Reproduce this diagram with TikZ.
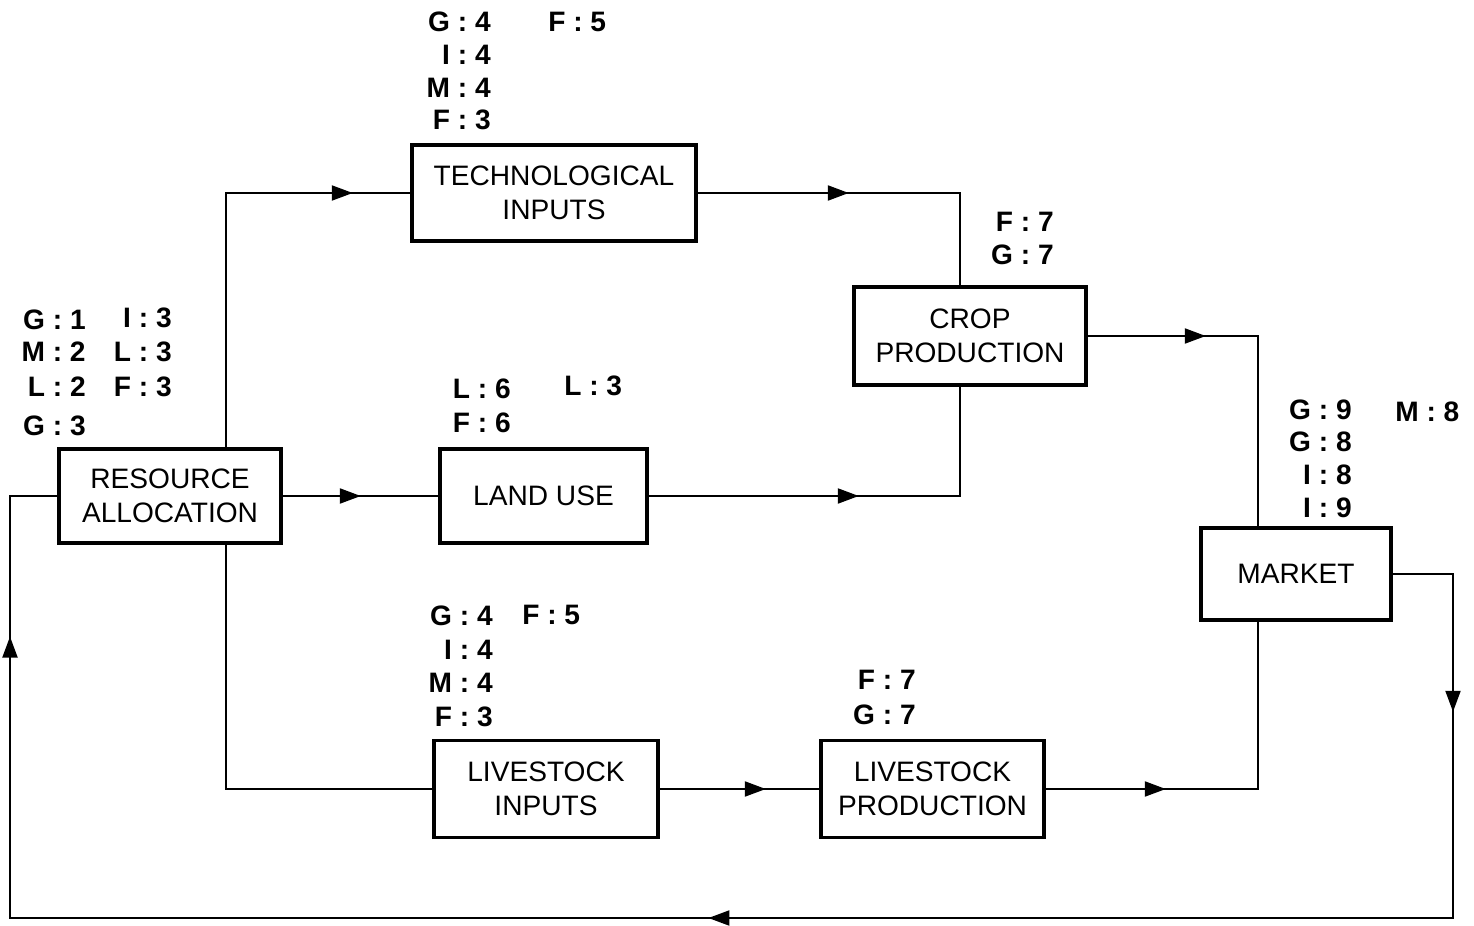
\documentclass[tikz,border=0pt]{standalone}
\usepackage{fontspec}
\setmainfont{Liberation Sans}
\usetikzlibrary{arrows.meta,decorations.markings}
\begin{document}
\begin{tikzpicture}[x=0.02cm,y=-0.02cm,
  box/.style={draw, line width=2.1pt, align=center, inner sep=0pt,
    font=\fontsize{16}{19.5}\selectfont},
  lab/.style={font=\bfseries\fontsize{16}{19}\selectfont, inner sep=0pt, anchor=east},
  labw/.style={font=\bfseries\fontsize{16}{19}\selectfont, inner sep=0pt, anchor=west},
  conn/.style={line width=1.2pt},
  tipat/.style={postaction={decorate, decoration={markings,
    mark=at position #1 with {\arrow{Triangle[length=0.42cm,width=0.3cm]}}}}},
]
\useasboundingbox (0,0) rectangle (1474,926);

% boxes
\node[box, minimum width=5.68cm, minimum height=1.92cm] (TI) at (554,193) {TECHNOLOGICAL\\INPUTS};
\node[box, minimum width=4.64cm, minimum height=1.96cm] (CP) at (970,336) {CROP\\PRODUCTION};
\node[box, minimum width=4.44cm, minimum height=1.88cm] (RA) at (170,496) {RESOURCE\\ALLOCATION};
\node[box, minimum width=4.14cm, minimum height=1.88cm] (LU) at (543.5,496) {LAND USE};
\node[box, minimum width=3.80cm, minimum height=1.84cm] (MK) at (1296,574) {MARKET};
\node[box, minimum width=4.48cm, minimum height=1.94cm] (LI) at (546,789) {LIVESTOCK\\INPUTS};
\node[box, minimum width=4.46cm, minimum height=1.94cm] (LP) at (932.5,789) {LIVESTOCK\\PRODUCTION};

% routing coordinates
\coordinate (c1) at (226,0);
\coordinate (c2) at (960,0);
\coordinate (c3) at (1258,0);
\coordinate (c4) at (1453,918);
\coordinate (c5) at (10,918);

% connectors
\draw[conn, tipat=7.62cm] (RA.north -| c1) |- (TI.west);
\draw[conn, tipat=1.56cm] (RA.east) -- (LU.west);
\draw[conn] (RA.south -| c1) |- (LI.west);
\draw[conn, tipat=3.02cm] (TI.east) -| (CP.north -| c2);
\draw[conn, tipat=4.2cm] (LU.east) -| (CP.south -| c2);
\draw[conn, tipat=2.36cm] (CP.east) -| (MK.north -| c3);
\draw[conn, tipat=2.12cm] (LI.east) -- (LP.west);
\draw[conn, tipat=2.4cm] (LP.east) -| (MK.south -| c3);
\draw[conn, tipat=3.96cm, tipat=22.98cm, tipat=42.58cm] (MK.east) -| (c4) -- (c5) |- (RA.west);

% labels: technological inputs
\node[lab] (t1) at (491,22) {G : 4};
\node[labw] (t2) at (548,22) {F : 5};
\node[lab] (t3) at (491,55) {I : 4};
\node[lab] (t4) at (491,88) {M : 4};
\node[lab] (t5) at (491,120) {F : 3};

% labels: crop production
\node[lab] (p1) at (1054,222) {F : 7};
\node[lab] (p2) at (1054,255) {G : 7};

% labels: resource allocation
\node[lab] (r1) at (86,320) {G : 1};
\node[lab] (r2) at (172,318) {I : 3};
\node[lab] (r3) at (86,352) {M : 2};
\node[lab] (r4) at (172,352) {L : 3};
\node[lab] (r5) at (86,387) {L : 2};
\node[lab] (r6) at (172,387) {F : 3};
\node[lab] (r7) at (86,426) {G : 3};

% labels: land use
\node[lab] (u1) at (511,389) {L : 6};
\node[labw] (u2) at (564,386) {L : 3};
\node[lab] (u3) at (511,423) {F : 6};

% labels: market
\node[lab] (m1) at (1352,410) {G : 9};
\node[labw] (m2) at (1395,412) {M : 8};
\node[lab] (m3) at (1352,442) {G : 8};
\node[lab] (m4) at (1352,475) {I : 8};
\node[lab] (m5) at (1352,508) {I : 9};

% labels: livestock inputs
\node[lab] (l1) at (493,616) {G : 4};
\node[labw] (l2) at (522,615) {F : 5};
\node[lab] (l3) at (493,650) {I : 4};
\node[lab] (l4) at (493,683) {M : 4};
\node[lab] (l5) at (493,717) {F : 3};

% labels: livestock production
\node[lab] (q1) at (916,680) {F : 7};
\node[lab] (q2) at (916,715) {G : 7};
\end{tikzpicture}
\end{document}
